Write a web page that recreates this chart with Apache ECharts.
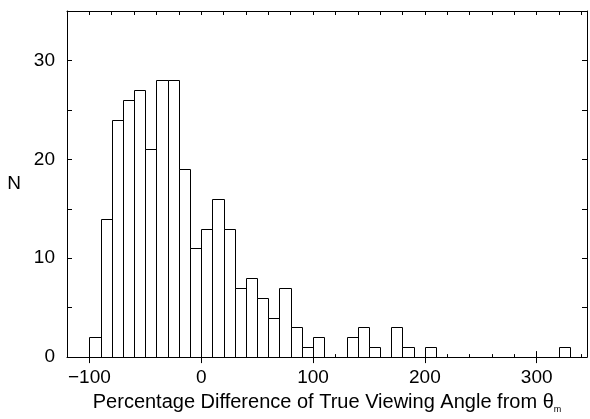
<!DOCTYPE html>
<html>
<head>
<meta charset="utf-8">
<script src="https://cdn.jsdelivr.net/npm/echarts@6/dist/echarts.min.js"></script>
<style>html,body{margin:0;padding:0;background:#fff}#c{width:590px;height:419px}</style>
</head>
<body>
<div id="c"></div>
<script>
// Histogram bins (left edges, percent) and counts
const binStarts = [-100,-90,-80,-70,-60,-50,-40,-30,-20,-10,0,10,20,30,40,50,60,70,80,90,100,110,120,130,140,150,160,170,180,190,200,210,220,230,240,250,260,270,280,290,300,310,320];
const counts    = [2,14,24,26,27,21,28,28,19,11,13,16,13,7,8,6,4,7,3,1,2,0,0,2,3,1,0,3,1,0,1,0,0,0,0,0,0,0,0,0,0,0,1];
const binWidth = 10;
const xMajorTicks = [-100,0,100,200,300];
const yLabelValues = [0,10,20,30];
const xTitle = 'Percentage Difference of True Viewing Angle from θ';
const xTitleSub = 'm';
const yTitle = 'N';

const FONT = 'Liberation Sans, Arial, Helvetica, sans-serif';
const FS = 19;
const chart = echarts.init(document.getElementById('c'), null, {renderer: 'canvas'});
const data = binStarts.map((b, i) => [b, counts[i]]);
const lineStyle = {color: '#000', width: 1};
const fmtX = v => (v < 0 ? '\u2212' + Math.abs(v) : String(v));

const baseX = {type: 'value', min: -120, max: 345, splitLine: {show: false}};
chart.setOption({
  animation: false,
  grid: {left: 67, right: 3, top: 11, bottom: 54, containLabel: false},
  xAxis: [
    Object.assign({}, baseX, {
      position: 'bottom', interval: 20,
      axisLine: {show: true, onZero: false, lineStyle},
      axisTick: {show: true, inside: true, length: 3, lineStyle},
      axisLabel: {show: true, customValues: xMajorTicks, formatter: fmtX, color: '#000', fontFamily: FONT, fontSize: FS, margin: 11},
      name: '{a|' + xTitle + '}{s|' + xTitleSub + '}',
      nameLocation: 'middle', nameGap: 32,
      nameTextStyle: {color: '#000', fontFamily: FONT, fontSize: 20,
        rich: {a: {fontFamily: FONT, fontSize: 20, color: '#000'},
               s: {fontFamily: FONT, fontSize: 9, color: '#000', padding: [15, 0, 0, 0]}}}
    }),
    Object.assign({}, baseX, {
      position: 'bottom', axisLine: {show: false},
      axisTick: {show: true, inside: true, length: 6, customValues: xMajorTicks, lineStyle},
      axisLabel: {show: false}
    }),
    Object.assign({}, baseX, {
      position: 'top', interval: 20,
      axisLine: {show: true, onZero: false, lineStyle},
      axisTick: {show: true, inside: true, length: 4, lineStyle},
      axisLabel: {show: false}
    }),
    Object.assign({}, baseX, {
      position: 'top', axisLine: {show: false},
      axisTick: {show: true, inside: true, length: 6, customValues: xMajorTicks, lineStyle},
      axisLabel: {show: false}
    })
  ],
  yAxis: [
    {type: 'value', min: 0, max: 35, interval: 5, position: 'left',
     axisLine: {show: true, onZero: false, lineStyle},
     axisTick: {show: true, inside: true, length: 5, lineStyle},
     axisLabel: {show: true, customValues: yLabelValues, color: '#000', fontFamily: FONT, fontSize: FS, margin: 12},
     splitLine: {show: false},
     name: yTitle, nameLocation: 'middle', nameRotate: 0, nameGap: 46,
     nameTextStyle: {color: '#000', fontFamily: FONT, fontSize: FS, padding: [0, 0, 12, 0]}},
    {type: 'value', min: 0, max: 35, interval: 5, position: 'right',
     axisLine: {show: true, onZero: false, lineStyle},
     axisTick: {show: true, inside: true, length: 5, lineStyle},
     axisLabel: {show: false}, splitLine: {show: false}}
  ],
  series: [{
    type: 'custom',
    xAxisIndex: 0, yAxisIndex: 0,
    data: data,
    clip: true,
    renderItem: function (params, api) {
      const x0 = api.value(0), n = api.value(1);
      if (!n) return null;
      const p0 = api.coord([x0, 0]);
      const p1 = api.coord([x0 + binWidth, n]);
      const x = Math.round(p0[0]) + 0.5, y = Math.round(p1[1]) + 0.5;
      const w = Math.round(p1[0]) - Math.round(p0[0]);
      const h = Math.round(p0[1]) - Math.round(p1[1]);
      return {type: 'rect', shape: {x: x, y: y, width: w, height: h},
              style: {fill: '#fff', stroke: '#000', lineWidth: 1}};
    }
  }]
});
</script>
</body>
</html>
